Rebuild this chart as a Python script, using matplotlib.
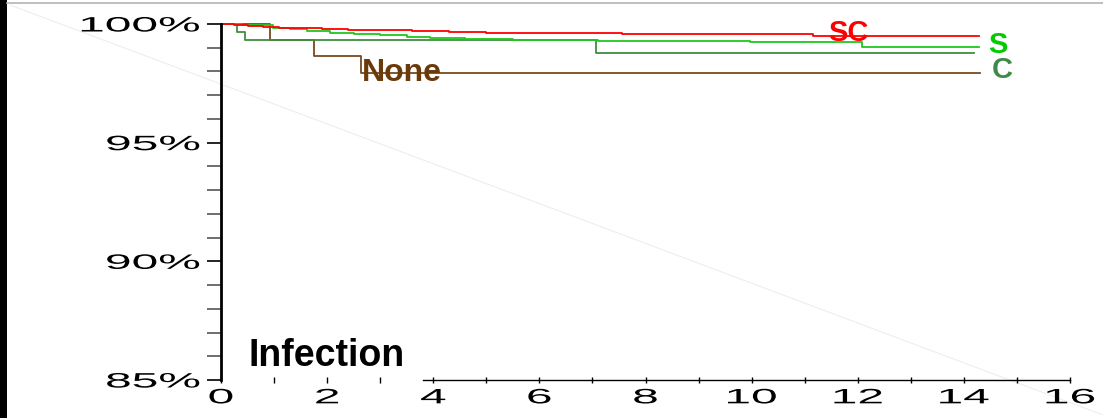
import matplotlib
matplotlib.use("Agg")
import matplotlib.pyplot as plt
from matplotlib.lines import Line2D
from matplotlib.patches import Rectangle
from matplotlib.patheffects import AbstractPathEffect
from matplotlib.transforms import Affine2D
from matplotlib.ticker import MultipleLocator

plt.rcParams['font.family'] = ['Liberation Sans', 'DejaVu Sans']

# Kaplan-Meier steps: years since surgery vs % free of infection
sc_t = [0, 0.25, 0.5, 0.8, 1.1, 1.5, 1.9, 2.4, 3.0, 3.6, 4.3, 5.0, 6.0, 7.55, 11.15, 14.28]
sc_s = [100, 99.96, 99.92, 99.88, 99.85, 99.82, 99.79, 99.76, 99.73, 99.70, 99.67, 99.64, 99.62, 99.58, 99.51, 99.51]

s_t = [0, 0.4, 0.98, 1.3, 1.62, 2.05, 2.5, 3.0, 3.5, 3.94, 4.6, 5.5, 7.1, 9.97, 12.08, 14.28]
s_s = [100, 99.96, 99.82, 99.77, 99.72, 99.61, 99.57, 99.53, 99.47, 99.41, 99.35, 99.31, 99.27, 99.23, 99.05, 99.05]

c_t = [0, 0.3, 0.45, 7.07, 14.2]
c_s = [100, 99.68, 99.33, 98.77, 98.77]

none_t = [0, 0.92, 1.75, 2.64, 14.3]
none_s = [100, 99.33, 98.66, 97.95, 97.95]

y_ticks = [85, 90, 95, 100]
x_ticks = [0, 2, 4, 6, 8, 10, 12, 14, 16]


class Stretch(AbstractPathEffect):
    """Widen glyphs horizontally about an anchor (0 left, 0.5 centre, 1 right)."""
    def __init__(self, sx, anchor=0.5):
        super().__init__()
        self.sx = sx
        self.anchor = anchor

    def draw_path(self, renderer, gc, tpath, affine, rgbFace=None):
        ext = tpath.get_extents()
        x0 = ext.x0 + self.anchor * ext.width
        tr = Affine2D().translate(-x0, 0).scale(self.sx, 1).translate(x0, 0) + affine
        renderer.draw_path(gc, tpath, tr, rgbFace)


W, H = 1103, 418
fig = plt.figure(figsize=(W / 100, H / 100), dpi=100)
fig.patch.set_facecolor('white')

# frame bits around the plot
fig.add_artist(Rectangle((0, 0), 7 / W, 1, transform=fig.transFigure,
                         color='black', lw=0))
fig.add_artist(Line2D([7 / W, 1], [1 - 3 / H, 1 - 3 / H], transform=fig.transFigure,
                      color='#b4b4b4', lw=1.2))
fig.add_artist(Line2D([10 / W, 1], [1 - 5 / H, 1 - 415 / H], transform=fig.transFigure,
                      color='#ececec', lw=0.7, zorder=0))

ax = fig.add_axes([221 / W, 1 - 380 / H, (1070 - 221) / W, (380 - 24) / H])
ax.patch.set_alpha(0)

ax.step(none_t, none_s, where='post', color='#7a4a1e', lw=1.3, clip_on=False)
ax.step(c_t, c_s, where='post', color='#3f8f3f', lw=1.3, clip_on=False)
ax.step(s_t, s_s, where='post', color='#1ec81e', lw=1.3, clip_on=False)
ax.step(sc_t, sc_s, where='post', color='#ff0000', lw=1.3, clip_on=False)

ax.set_xlim(0, 16)
ax.set_ylim(85, 100)

ax.text(11.82, 99.29, 'SC', color='#ff0000', fontsize=21, fontweight='bold',
        ha='center', va='baseline')
ax.text(14.64, 98.78, 'S', color='#00cc00', fontsize=21, fontweight='bold',
        ha='center', va='baseline')
ax.text(14.72, 97.73, 'C', color='#3f8a4a', fontsize=21, fontweight='bold',
        ha='center', va='baseline')
ax.text(2.66, 97.6, 'None', color='#6b3a0a', fontsize=23, fontweight='bold',
        ha='left', va='baseline')
ax.text(0.51, 85.6, 'Infection', color='black', fontsize=27, fontweight='bold',
        ha='left', va='baseline')

for side in ('top', 'right'):
    ax.spines[side].set_visible(False)
ax.spines['left'].set_linewidth(2.0)
ax.spines['bottom'].set_linewidth(1.0)
ax.spines['bottom'].set_bounds(3.8, 16)

ax.set_yticks(y_ticks)
ax.set_yticklabels([f'{v}%' for v in y_ticks])
ax.yaxis.set_minor_locator(MultipleLocator(1))
ax.set_xticks(x_ticks)
ax.set_xticklabels([str(v) for v in x_ticks])
ax.xaxis.set_minor_locator(MultipleLocator(1))

ax.tick_params(axis='y', which='both', direction='out', length=10, width=1.2, pad=5,
               labelsize=15)
ax.tick_params(axis='y', which='minor', color='#555555')
ax.tick_params(axis='x', which='both', direction='inout', length=5, width=1.0, pad=3.5,
               labelsize=15)
ax.tick_params(axis='x', which='minor', length=4)

for lab in ax.get_yticklabels():
    lab.set_path_effects([Stretch(2.3, 1.0)])
for lab in ax.get_xticklabels():
    lab.set_path_effects([Stretch(2.3, 0.5)])

fig.savefig('out.png', dpi=100)
